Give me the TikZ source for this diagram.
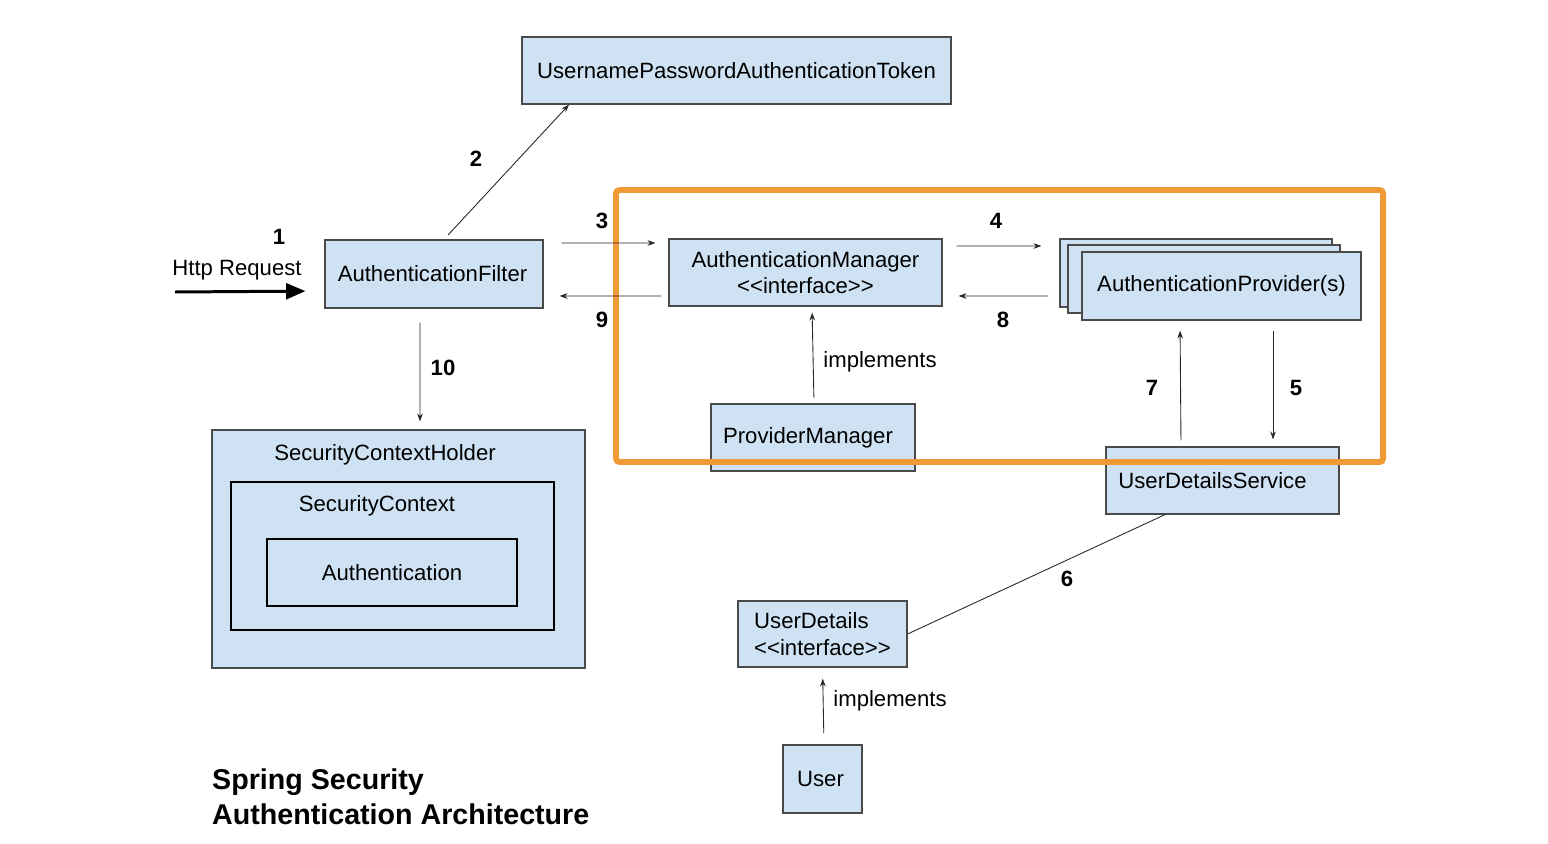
\documentclass[tikz,border=0pt]{standalone}
\usepackage{fontspec}
\setmainfont{Liberation Sans}
\usetikzlibrary{arrows.meta}

\definecolor{boxblue}{HTML}{CFE2F3}
\definecolor{boxline}{HTML}{4A4A4A}
\definecolor{hilite}{HTML}{F09A36}

\newcommand{\ifacetag}{<\kern0pt<interface>\kern0pt>}

\tikzset{
  box/.style={draw=boxline, fill=boxblue, line width=0.7pt, inner sep=0pt,
    font=\fontsize{12.6}{15}\selectfont},
  flow/.style={-{Stealth[length=4.5pt,width=3.2pt]}, line width=0.5pt, black!85},
  lbl/.style={font=\fontsize{12.6}{15}\selectfont},
  num/.style={font=\fontsize{12.6}{15}\selectfont\bfseries},
}

\begin{document}
\begin{tikzpicture}[x=0.02cm, y=-0.02cm]
\useasboundingbox (0,0) rectangle (1548,844);

% Spring Security authentication architecture (pixel grid)

\node[box, minimum width=8.58cm, minimum height=1.34cm] (token) at (736.5,70.5) {UsernamePasswordAuthenticationToken};
\node[box, minimum width=4.36cm, minimum height=1.36cm] (filter) at (434,274) {AuthenticationFilter\kern0.06cm};
\node[box, minimum width=5.46cm, minimum height=1.34cm, align=center] (manager) at (805.5,272.5) {AuthenticationManager\\\ifacetag};
\foreach \i/\x/\y in {back/1196/273, mid/1204/279}
  \node[box, minimum width=5.44cm, minimum height=1.36cm] (prov\i) at (\x,\y) {};
\node[box, minimum width=5.58cm, minimum height=1.36cm] (provider) at (1221.5,286) {AuthenticationProvider(s)};
\node[box, minimum width=4.08cm, minimum height=1.34cm] (provmgr) at (813,437.5) {ProviderManager\kern0.2cm};
\node[box, minimum width=4.66cm, minimum height=1.34cm] (uds) at (1222.5,480.5) {UserDetailsService\kern0.4cm};
\node[box, minimum width=3.38cm, minimum height=1.32cm, align=left] (ud) at (822.5,634) {UserDetails\\\ifacetag};
\node[box, minimum width=1.58cm, minimum height=1.36cm] (user) at (822.5,779) {User\kern0.08cm};

\node[box, minimum width=7.46cm, minimum height=4.76cm] (holder) at (398.5,549) {};
\node[box, draw=black, minimum width=6.46cm, minimum height=2.96cm] (context) at (392.5,556) {};
\node[box, draw=black, minimum width=5.0cm, minimum height=1.34cm] (auth) at (392,572.5) {Authentication};
\node[lbl] (holdertxt) at (385,455) {SecurityContextHolder};
\node[lbl] (contexttxt) at (377,506) {SecurityContext};

% highlight frame
\draw[hilite, line width=3.4pt, rounded corners=2pt] (616,190) rectangle (1383,462);

% request
\coordinate (req) at (175,292);
\node[lbl] (http) at (237,270) {Http Request};
\draw[-{Triangle[length=11pt,width=9pt]}, line width=1.7pt, shorten >=0.38cm] (req) -- ([yshift=-0.34cm]filter.west);

% flows
\draw[flow, shorten <=0.12cm] ([xshift=0.2cm]filter.north) -- ([xshift=-3.35cm]token.south);
\draw[flow, shorten <=0.36cm, shorten >=0.26cm] ([yshift=0.62cm]filter.east) -- ([yshift=0.59cm]manager.west);
\draw[flow, shorten <=0.14cm, shorten >=0.32cm] ([yshift=-0.47cm]manager.west) -- ([yshift=-0.44cm]filter.east);
\draw[flow, shorten <=0.28cm, shorten >=0.36cm] ([yshift=0.53cm]manager.east) -- ([yshift=0.54cm]provback.west);
\draw[flow, shorten <=0.22cm, shorten >=0.32cm] ([yshift=-0.46cm]provback.west) -- ([yshift=-0.47cm]manager.east);
\draw[flow, shorten <=0.2cm, shorten >=0.14cm] ([xshift=1.03cm]provider.south) -- ([xshift=1.01cm]uds.north);
\draw[flow, shorten <=0.12cm, shorten >=0.2cm] ([xshift=-0.83cm]uds.north) -- ([xshift=-0.83cm]provider.south);
\draw[flow, shorten <=0.12cm, shorten >=0.12cm] ([xshift=0.02cm]provmgr.north) -- ([xshift=0.13cm]manager.south);
\draw[line width=0.5pt, black!85] ([xshift=-1.15cm]uds.south) -- (ud.east);
\draw[flow, shorten <=0.22cm, shorten >=0.22cm] ([xshift=0.03cm]user.north) -- (ud.south);
\draw[flow, shorten <=0.28cm, shorten >=0.16cm] ([xshift=-0.28cm]filter.south) -- ([xshift=0.43cm]holder.north);

% step numbers
\node[num] (n1) at (279,237) {1};
\node[num] (n2) at (476,159) {2};
\node[num] (n3) at (602,221) {3};
\node[num] (n4) at (996,221) {4};
\node[num] (n5) at (1296,388) {5};
\node[num] (n6) at (1067,579) {6};
\node[num] (n7) at (1152,388) {7};
\node[num] (n8) at (1003,320) {8};
\node[num] (n9) at (602,320) {9};
\node[num] (n10) at (443,368) {10};
\node[lbl] (impl1) at (880,362) {implements};
\node[lbl] (impl2) at (890,701) {implements};

\node[font=\fontsize{16.3}{19.8}\selectfont\bfseries, align=left, anchor=west] (title) at (206,797) {Spring Security\\Authentication Architecture};

\end{tikzpicture}
\end{document}
